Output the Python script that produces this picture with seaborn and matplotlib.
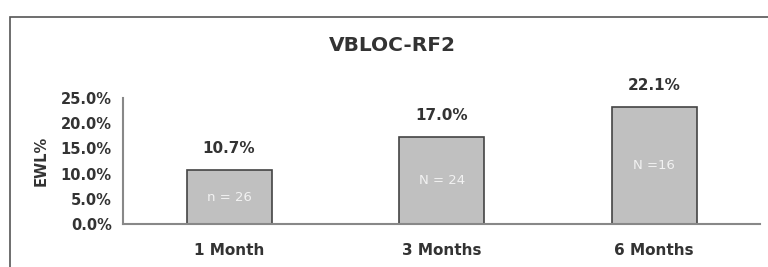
import matplotlib
matplotlib.use("Agg")
import matplotlib.pyplot as plt
import seaborn as sns
import pandas as pd
from matplotlib.patches import Rectangle

# data
periods = ['1 Month', '3 Months', '6 Months']
ewl = [10.7, 17.2, 23.3]             # bar heights as drawn
value_labels = ['10.7%', '17.0%', '22.1%']
n_labels = ['n = 26', 'N = 24', 'N =16']
yticks = [0, 5, 10, 15, 20, 25]

sns.set_style("white")
plt.rcParams['font.family'] = ['DejaVu Sans']

df = pd.DataFrame({'period': periods, 'ewl': ewl})

fig = plt.figure(figsize=(7.68, 2.67), dpi=100)
ax = fig.add_axes([0.160, 0.161, 0.830, 0.472])

sns.barplot(data=df, x='period', y='ewl', color='#c0c0c0', edgecolor='#444444',
            linewidth=1.2, width=0.4, saturation=1, ax=ax)

txt = '#333333'
for i, (h, vl, nl) in enumerate(zip(ewl, value_labels, n_labels)):
    ax.annotate(vl, (i, h), xytext=(0, 10), textcoords='offset points',
                ha='center', va='bottom', fontsize=11, fontweight='bold', color=txt)
    ax.text(i, h / 2, nl, ha='center', va='center', fontsize=9.5,
            color='#f2f2f2')

ax.set_xlim(-0.5, 2.5)
ax.set_ylim(0, 25)
ax.set_yticks(yticks)
ax.set_yticklabels([f'{v:.1f}%' for v in yticks])
ax.set_xticks(range(len(periods)))
ax.set_xticklabels(periods)
ax.set_xticks([-0.5, 0.5, 1.5, 2.5], minor=True)

ax.tick_params(axis='x', which='major', length=0, pad=14, labelsize=11, colors=txt)
ax.tick_params(axis='x', which='minor', length=4, direction='out', color='#888888', width=1)
ax.tick_params(axis='y', length=5, direction='out', color='#888888', width=1,
               labelsize=10.5, colors=txt, pad=3)
for lab in ax.get_xticklabels() + ax.get_yticklabels():
    lab.set_fontweight('bold')

for s in ['top', 'right']:
    ax.spines[s].set_visible(False)
for s in ['left', 'bottom']:
    ax.spines[s].set_color('#888888')
    ax.spines[s].set_linewidth(1.5)

ax.set_xlabel('')
ax.set_ylabel('EWL%', fontsize=10.5, fontweight='bold', color=txt, labelpad=9)

fig.text(0.511, 0.83, 'VBLOC-RF2', ha='center', va='center', fontsize=14.5,
         fontweight='bold', color=txt)

# outer frame, running off the right and bottom edges
fig.patches.append(Rectangle((10 / 768, -0.1), 1.0, 1 - 17 / 267 + 0.1,
                             transform=fig.transFigure, fill=False,
                             edgecolor='#555555', linewidth=1.2))

fig.savefig('out.png', dpi=100)
